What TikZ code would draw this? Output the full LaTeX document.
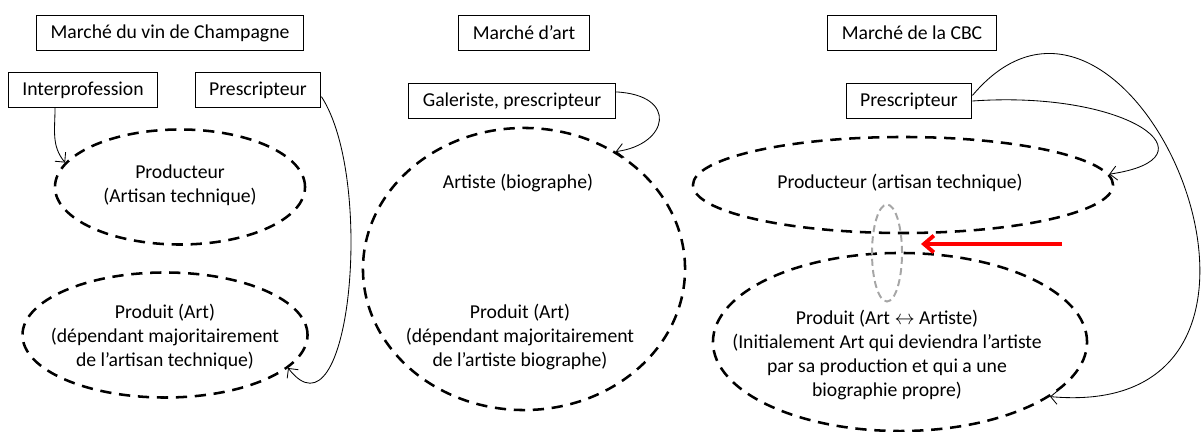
\documentclass[tikz,border=0pt]{standalone}
\usepackage{fontspec}
\setmainfont{Carlito}
\usepackage{tikz}
\usetikzlibrary{shapes.geometric}
\usetikzlibrary{arrows.meta}
\tikzset{every node/.style={font=\fontsize{14}{17.3}\selectfont},
 box/.style={draw, line width=0.8pt, minimum height=0.88cm, inner xsep=10pt},
 zone/.style={ellipse, draw, line width=1.8pt, dash pattern=on 8pt off 5.5pt, inner sep=0pt},
 lien/.style={ellipse, draw=gray!70, line width=1.4pt, dash pattern=on 5pt off 3pt, inner sep=0pt},
 txt/.style={align=center, inner sep=0pt},
 fleche/.style={-{Straight Barb[length=5pt,width=10pt]}, line width=0.6pt},
 rouge/.style={-{Straight Barb[length=7pt,width=12pt]}, draw=red, line width=2.8pt},
 }

\begin{document}
\begin{tikzpicture}[x=0.025cm, y=-0.025cm]
        \useasboundingbox (0,0) rectangle (1203,432);
        \node[box] (champ) at (170,33) {Marché du vin de Champagne};
        \node[box] (art) at (524,33) {Marché d’art};
        \node[box] (cbc) at (912,33) {Marché de la CBC};

        \node[box] (interp) at (83,90) {Interprofession};
        \node[box] (presc1) at (258,90) {Prescripteur};
        \node[zone, minimum width=6.25cm, minimum height=2.875cm] (prod1) at (180,187) {};
        \node[zone, minimum width=7.125cm, minimum height=3.125cm] (art1) at (165,335) {};
        \node[txt] (prod1txt) at (180,185) {Producteur\\(Artisan technique)};
        \node[txt] (art1txt) at (165,337) {Produit (Art)\\(dépendant majoritairement\\de l’artisan technique)};

        \node[box] (gal) at (512,101) {Galeriste, prescripteur};
        \node[zone, minimum width=8.05cm, minimum height=7.05cm] (big) at (524,269) {};
        \node[txt] (artiste) at (518,183) {Artiste (biographe)};
        \node[txt] (art2txt) at (520,337) {Produit (Art)\\(dépendant majoritairement\\de l’artiste biographe)};

        \node[box] (presc3) at (909,101) {Prescripteur};
        \node[zone, minimum width=10.5cm, minimum height=2.4cm] (prod3) at (903,185) {};
        \node[zone, minimum width=9.35cm, minimum height=4.45cm] (art3) at (900,342) {};
        \node[lien, minimum width=0.75cm, minimum height=2.425cm] (link) at (887,253) {};
        \node[txt] (prod3txt) at (900,183) {Producteur (artisan technique)};
        \node[txt] (art3txt) at (887,355) {Produit (Art $\leftrightarrow$ Artiste)\\(Initialement Art qui deviendra l’artiste\\par sa production et qui a une\\biographie propre)};
        \coordinate (redtail) at (1062,244);

        \draw[fleche] (interp.-147) to[out=-90, in=130] (prod1.168);
        \draw[fleche] (presc1.-6) .. controls +(54,83) and +(62,80) .. (art1.-15);
        \draw[fleche] (gal.5) .. controls +(63,3) and +(53,-7) .. (big.52);
        \draw[fleche] (presc3.east) .. controls +(158,-11) and +(110,-16) .. (prod3.3);
        \draw[fleche] (presc3.5) .. controls +(160,-190) and +(300,27) .. (art3.-20);
        \draw[rouge] (redtail) -- ([xshift=0.45cm]redtail -| link.east);
    \end{tikzpicture}
\end{document}
